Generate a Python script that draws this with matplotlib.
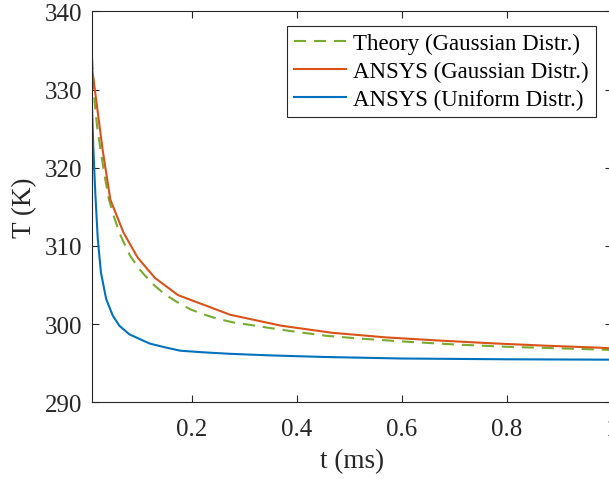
import matplotlib
matplotlib.use("Agg")
import matplotlib.pyplot as plt

# Theory (Gaussian distribution)
t_theory = [0.01, 0.015, 0.02, 0.026, 0.034, 0.042, 0.052, 0.062, 0.075, 0.0825,
            0.100, 0.111, 0.128, 0.147, 0.17, 0.197, 0.22, 0.248, 0.28, 0.311,
            0.349, 0.40, 0.457, 0.52, 0.597, 0.70, 0.80, 0.90, 1.0]
T_theory = [334.1, 328.4, 325.1, 322.4, 319.0, 316.0, 313.7, 311.7, 309.8, 308.75,
            307.05, 306.2, 305.0, 303.9, 302.9, 301.9, 301.3, 300.7, 300.2, 299.9,
            299.5, 299.0, 298.5, 298.15, 297.8, 297.4, 297.1, 296.9, 296.7]

# ANSYS (Gaussian distribution)
t_ansys_g = [0.01, 0.02, 0.03, 0.045, 0.07, 0.097, 0.13, 0.174, 0.273, 0.37,
             0.466, 0.57, 0.67, 0.77, 0.87, 0.97, 1.0]
T_ansys_g = [332.8, 327.6, 322.4, 315.9, 311.7, 308.5, 305.9, 303.7, 301.2, 299.8,
             298.9, 298.3, 297.9, 297.55, 297.25, 297.0, 296.9]

# ANSYS (Uniform distribution)
t_ansys_u = [0.01, 0.0126, 0.0164, 0.021, 0.027, 0.037, 0.0495, 0.062, 0.081, 0.107,
             0.1206, 0.151, 0.178, 0.22, 0.273, 0.349, 0.45, 0.6, 0.8, 1.0]
T_ansys_u = [327.7, 322.4, 316.6, 310.9, 306.6, 303.2, 301.1, 299.8, 298.7, 297.9,
             297.5, 297.0, 296.6, 296.4, 296.2, 296.0, 295.8, 295.6, 295.5, 295.45]

x_ticks = [0.2, 0.4, 0.6, 0.8, 1.0]
x_ticklabels = ["0.2", "0.4", "0.6", "0.8", "1"]
y_ticks = [290, 300, 310, 320, 330, 340]

plt.rcParams['font.family'] = ['Liberation Serif', 'DejaVu Serif']

W, H = 609, 481
fig = plt.figure(figsize=(W / 100, H / 100), dpi=100)
left_px, right_px, top_px, bot_px = 92.0, 611.7, 12.3, 403.3
ax = fig.add_axes([left_px / W, 1 - bot_px / H, (right_px - left_px) / W, (bot_px - top_px) / H])

c_blue = '#0072BD'
c_orange = '#D95319'
c_green = '#77AC30'

ax.plot(t_theory, T_theory, color=c_green, lw=1.5, dashes=(5.8, 3.8),
        label='Theory (Gaussian Distr.)')
ax.plot(t_ansys_g, T_ansys_g, color=c_orange, lw=1.5, label='ANSYS (Gaussian Distr.)')
ax.plot(t_ansys_u, T_ansys_u, color=c_blue, lw=1.5, label='ANSYS (Uniform Distr.)')

ax.set_xlim(0.01, 1.0)
ax.set_ylim(290, 340)
ax.set_xticks(x_ticks)
ax.set_xticklabels(x_ticklabels)
ax.set_yticks(y_ticks)

spine_c = '#262626'
for s in ax.spines.values():
    s.set_color(spine_c)
    s.set_linewidth(0.8)
ax.tick_params(direction='in', top=True, right=True, length=5, width=0.8,
               color=spine_c, labelcolor=spine_c, labelsize=18)
ax.tick_params(axis='x', pad=11.5)
ax.tick_params(axis='y', pad=7)

ax.set_xlabel('t (ms)', fontsize=19.5, color=spine_c, labelpad=6)
ax.set_ylabel('T (K)', fontsize=19.5, color=spine_c, labelpad=5.5)

leg = ax.legend(loc='upper right', bbox_to_anchor=(0.969, 0.962), borderaxespad=0,
                fontsize=16.5, frameon=True, fancybox=False, framealpha=1,
                edgecolor='#262626', handlelength=2.3, handletextpad=0.3,
                borderpad=0.3, labelspacing=0.3)
leg.get_frame().set_linewidth(0.8)

fig.savefig('out.png', dpi=100)
